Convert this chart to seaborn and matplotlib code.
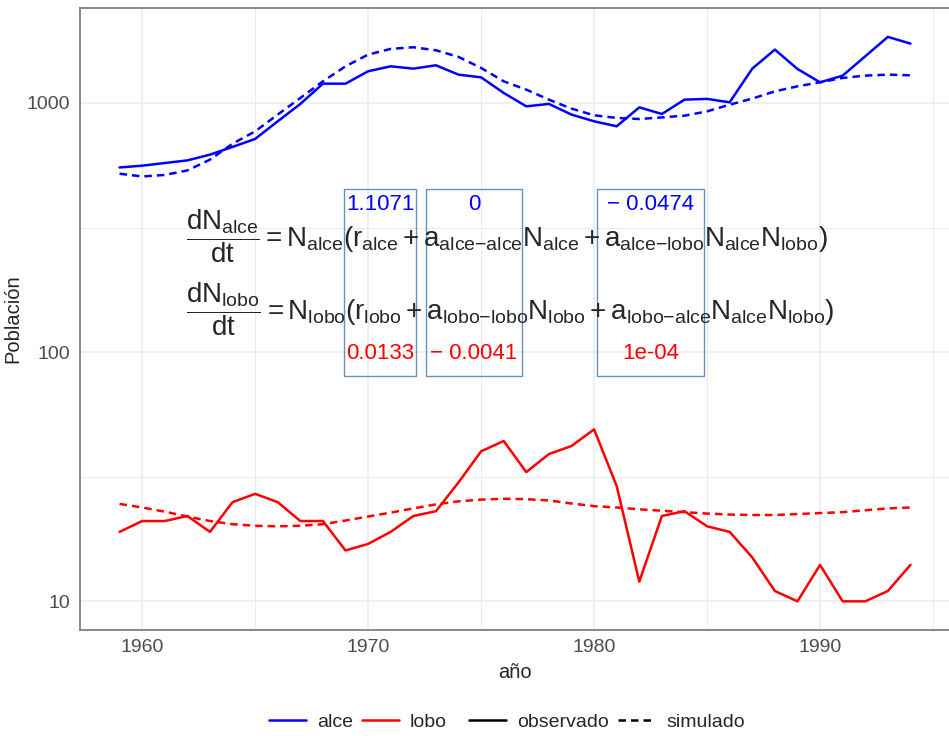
import numpy as np
import pandas as pd
import matplotlib
matplotlib.use("Agg")
import matplotlib.pyplot as plt
import seaborn as sns
from matplotlib.lines import Line2D
from matplotlib.patches import Rectangle
from matplotlib.ticker import FixedLocator, NullFormatter

# Isle Royale series
anios = list(range(1959, 1995))
alce_obs = [551, 560, 574, 588, 620, 666, 717, 844, 991, 1195, 1195, 1340, 1403, 1373,
            1416, 1299, 1267, 1097, 969, 991, 898, 844, 806, 960, 903, 1031, 1038, 1006,
            1373, 1637, 1369, 1210, 1287, 1539, 1841, 1730]
alce_sim = [520, 507, 514, 536, 592, 686, 769, 898, 1047, 1221, 1403, 1563, 1648, 1673,
            1627, 1530, 1382, 1221, 1131, 1031, 949, 892, 871, 862, 875, 889, 925, 984,
            1041, 1113, 1166, 1210, 1260, 1287, 1299, 1291]
lobo_obs = [19, 21, 21, 22, 19, 25, 27, 25, 21, 21, 16, 17, 19, 22, 23, 30, 40, 44,
            33, 39, 42, 49, 29, 12, 22, 23, 20, 19, 15, 11, 10, 14, 10, 10, 11, 14]
lobo_sim = [24.6, 23.8, 22.9, 21.9, 21.0, 20.4, 20.1, 20.0, 20.1, 20.4, 21.1, 21.9,
            22.7, 23.6, 24.5, 25.2, 25.6, 25.8, 25.7, 25.4, 24.7, 24.1, 23.8, 23.4,
            23.1, 22.8, 22.5, 22.3, 22.2, 22.2, 22.4, 22.6, 22.8, 23.2, 23.6, 23.8]

# fitted coefficients shown in the boxes
coef_alce = ["1.1071", "0", "\u2212 0.0474"]
coef_lobo = ["0.0133", "\u2212 0.0041", "1e-04"]

series = {
    ("alce", "observado"): alce_obs,
    ("alce", "simulado"): alce_sim,
    ("lobo", "observado"): lobo_obs,
    ("lobo", "simulado"): lobo_sim,
}
df = pd.concat(
    [pd.DataFrame({"anio": anios, "poblacion": v, "especie": k[0], "tipo": k[1]})
     for k, v in series.items()],
    ignore_index=True,
)

sns.set_style("white")
plt.rcParams["font.family"] = ["Liberation Sans", "DejaVu Sans"]
plt.rcParams["mathtext.fontset"] = "custom"
plt.rcParams["mathtext.rm"] = "Liberation Sans"
plt.rcParams["mathtext.it"] = "Liberation Sans"
plt.rcParams["mathtext.bf"] = "Liberation Sans:bold"

fig = plt.figure(figsize=(9.49, 7.36), dpi=100)
ax = fig.add_axes([80 / 949, 1 - 629.5 / 736, 870 / 949, 621.5 / 736])

palette = {"alce": "#0000FF", "lobo": "#FF0000"}
dashes = {"observado": "", "simulado": (3, 2)}
sns.lineplot(data=df, x="anio", y="poblacion", hue="especie", style="tipo",
             palette=palette, dashes=dashes, linewidth=1.8, legend=False, ax=ax)

ax.set_yscale("log")
ax.set_xlim(1957.25, 1995.75)
ax.set_ylim(10 ** 0.887, 10 ** 3.381)

ax.yaxis.set_major_locator(FixedLocator([10, 100, 1000]))
ax.yaxis.set_minor_locator(FixedLocator([10 ** 1.5, 10 ** 2.5]))
ax.yaxis.set_minor_formatter(NullFormatter())
ax.set_yticklabels(["10", "100", "1000"])
ax.xaxis.set_major_locator(FixedLocator([1960, 1970, 1980, 1990]))
ax.xaxis.set_minor_locator(FixedLocator([1965, 1975, 1985, 1995]))

ax.grid(which="major", color="#EBEBEB", linewidth=1.1)
ax.grid(which="minor", color="#EBEBEB", linewidth=0.7)
ax.set_axisbelow(True)
ax.tick_params(which="major", length=4, width=1, color="#333333",
               labelsize=14, labelcolor="#4D4D4D", pad=3)
ax.tick_params(which="minor", length=0)
for side in ["left", "top", "bottom", "right"]:
    ax.spines[side].set_color("#7F7F7F")
    ax.spines[side].set_linewidth(1.3)

ax.set_xlabel("año", fontsize=14.5, labelpad=5)
ax.set_ylabel("Población", fontsize=14.5, labelpad=3)

# model equations
eq1 = (r"$\dfrac{dN_{alce}}{dt} = N_{alce}(r_{alce} + a_{\text{alce\u2212alce}}N_{alce}"
       r" + a_{\text{alce\u2212lobo}}N_{alce}N_{lobo})$")
eq2 = (r"$\dfrac{dN_{lobo}}{dt} = N_{lobo}(r_{lobo} + a_{\text{lobo\u2212lobo}}N_{lobo}"
       r" + a_{\text{lobo\u2212alce}}N_{alce}N_{lobo})$")
eq1 = eq1.replace("\\u2212", "\u2212")
eq2 = eq2.replace("\\u2212", "\u2212")
ax.text(1961.95, 292, eq1, fontsize=20, ha="left", va="center")
ax.text(1961.95, 148, eq2, fontsize=20, ha="left", va="center")

box_x = [(1968.95, 1972.1), (1972.57, 1976.8), (1980.15, 1984.88)]
for (x0, x1), ca, cl in zip(box_x, coef_alce, coef_lobo):
    ax.add_patch(Rectangle((x0, 80.4), x1 - x0, 453 - 80.4, fill=False,
                           edgecolor="#6A8FC0", linewidth=1.0))
    xm = (x0 + x1) / 2
    ax.text(xm, 392, ca, color="#0000FF", fontsize=16, ha="center", va="center")
    ax.text(xm, 98.4, cl, color="#FF0000", fontsize=16, ha="center", va="center")

# legends
h1 = [Line2D([], [], color="#0000FF", lw=1.8), Line2D([], [], color="#FF0000", lw=1.8)]
h2 = [Line2D([], [], color="black", lw=1.8), Line2D([], [], color="black", lw=1.8, dashes=(3, 2))]
kw = dict(ncol=2, frameon=False, fontsize=14, handlelength=1.9, handletextpad=0.55,
          columnspacing=0.5, loc="center")
fig.legend(h1, ["alce", "lobo"], bbox_to_anchor=(358 / 949, 1 - 722 / 736), **kw)
fig.legend(h2, ["observado", "simulado"], bbox_to_anchor=(607 / 949, 1 - 722 / 736), **kw)

fig.savefig("out.png", dpi=100)
